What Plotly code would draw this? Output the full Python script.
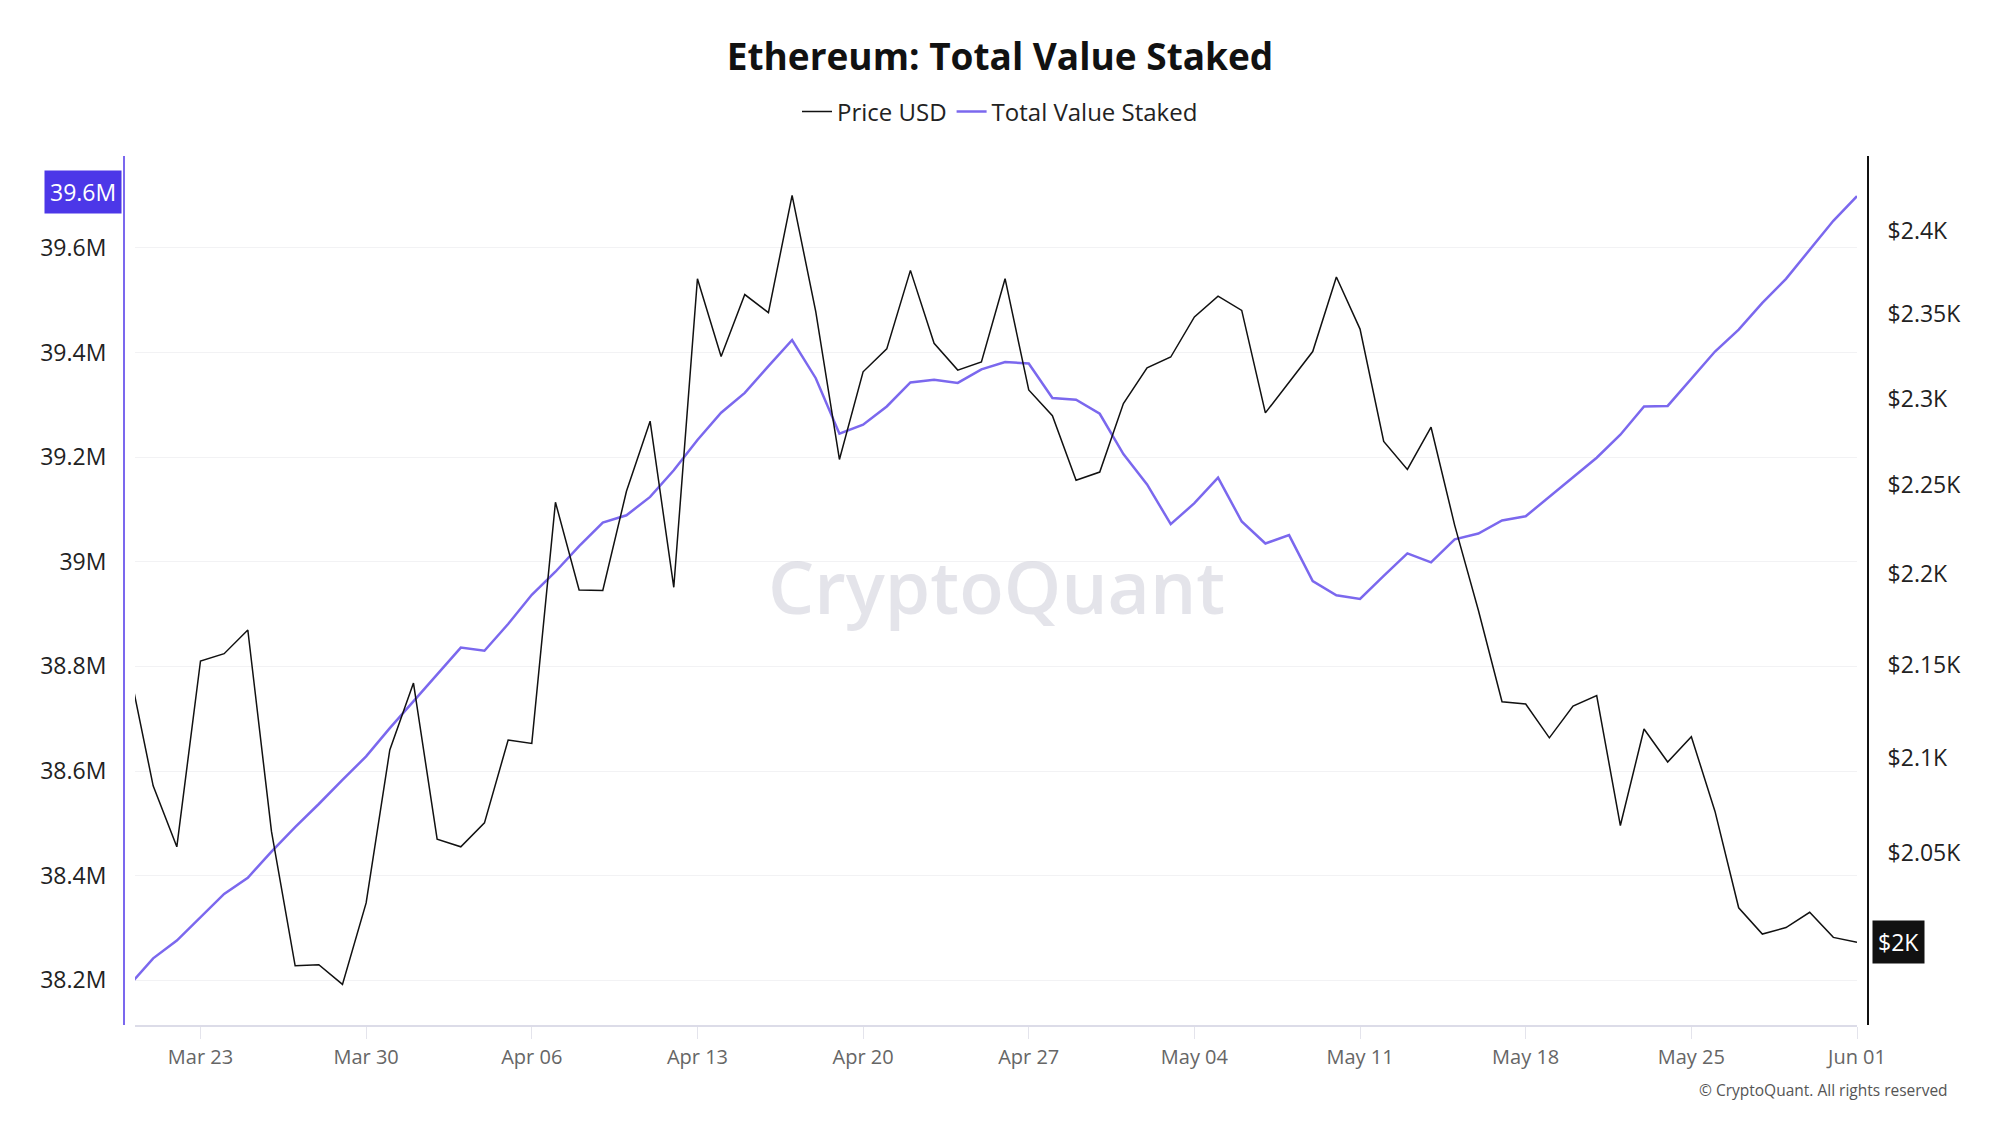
import math
import pandas as pd
import plotly.graph_objects as go

# ---------------- data ----------------
dates = pd.date_range("2025-03-20", "2025-06-01", freq="D")

price_usd = [
    2147, 2085, 2053, 2152, 2156, 2169, 2061, 1992, 1992.5, 1982.6, 2024, 2104,
    2140, 2057, 2053, 2065.5, 2109.3, 2107.5, 2240.4, 2191.1, 2190.8, 2246.6,
    2286.9, 2192.6, 2371.0, 2324.7, 2361.5, 2350.7, 2421.6, 2351.3, 2264.8,
    2315.7, 2329.2, 2376.0, 2332.5, 2316.7, 2321.5, 2371.0, 2305.1, 2290.1,
    2252.9, 2257.6, 2297.1, 2318.0, 2324.4, 2348.1, 2360.5, 2352.0, 2291.7,
    2309.3, 2327.6, 2372.0, 2340.9, 2275.2, 2259.1, 2283.4, 2227.3, 2179.9,
    2129.9, 2128.7, 2110.5, 2127.6, 2133.2, 2064.1, 2115.2, 2097.6, 2111.1,
    2071.5, 2021.5, 2008.1, 2011.4, 2019.2, 2006.4, 2003.9,
]

total_value_staked_m = [
    38.191, 38.242, 38.276, 38.320, 38.365, 38.396, 38.446, 38.493, 38.537,
    38.583, 38.628, 38.682, 38.734, 38.785, 38.836, 38.830, 38.881, 38.937,
    38.981, 39.030, 39.075, 39.089, 39.124, 39.175, 39.233, 39.285, 39.323,
    39.374, 39.424, 39.351, 39.245, 39.262, 39.297, 39.343, 39.348, 39.342,
    39.368, 39.382, 39.379, 39.313, 39.310, 39.283, 39.206, 39.148, 39.072,
    39.112, 39.161, 39.077, 39.035, 39.051, 38.963, 38.936, 38.929, 38.973,
    39.016, 38.999, 39.043, 39.054, 39.079, 39.087, 39.124, 39.161, 39.199,
    39.243, 39.297, 39.298, 39.351, 39.402, 39.444, 39.495, 39.541, 39.596,
    39.652, 39.699,
]

x_tick_dates = pd.date_range("2025-03-23", "2025-06-01", freq="7D")
left_tick_vals = [38.2, 38.4, 38.6, 38.8, 39.0, 39.2, 39.4, 39.6]
left_tick_text = ["38.2M", "38.4M", "38.6M", "38.8M", "39M", "39.2M", "39.4M", "39.6M"]
right_tick_vals = [2050, 2100, 2150, 2200, 2250, 2300, 2350, 2400]
right_tick_text = ["$2.05K", "$2.1K", "$2.15K", "$2.2K", "$2.25K", "$2.3K", "$2.35K", "$2.4K"]

PURPLE = "#7b68ee"
FONT = "Open Sans"

fig = go.Figure()
fig.add_trace(go.Scatter(
    x=dates, y=price_usd, name="Price USD", mode="lines",
    line=dict(color="#111111", width=1.5), yaxis="y2",
))
fig.add_trace(go.Scatter(
    x=dates, y=total_value_staked_m, name="Total Value Staked", mode="lines",
    line=dict(color=PURPLE, width=2.5), yaxis="y",
))

last_tvs = total_value_staked_m[-1]
last_price = price_usd[-1]
tvs_badge = f"{math.floor(last_tvs * 10) / 10:g}M"
price_badge = f"${last_price / 1000:.3g}K"

fig.update_layout(
    width=2000, height=1125,
    margin=dict(l=124, r=132, t=156, b=100),
    paper_bgcolor="white", plot_bgcolor="white",
    font=dict(family=FONT, color="#222"),
    title=dict(
        text="<b>Ethereum: Total Value Staked</b>",
        x=0.5, xref="container", xanchor="center",
        y=1 - 57 / 1125, yref="container", yanchor="middle",
        font=dict(size=37, color="#111", family=FONT),
    ),
    legend=dict(
        orientation="h", xref="container", x=0.5, xanchor="center",
        yref="container", y=1 - 112 / 1125, yanchor="middle",
        font=dict(size=24, color="#222"), bgcolor="rgba(0,0,0,0)",
        itemwidth=30,
    ),
    showlegend=True,
    xaxis=dict(
        type="date",
        domain=[11 / 1744, 1 - 11 / 1744],
        range=["2025-03-20 05:35", "2025-06-01 00:00"],
        showline=True, linecolor="#dcdce8", linewidth=1.5,
        ticks="outside", ticklen=12, tickcolor="#e4e4ec", tickwidth=1,
        tickvals=list(x_tick_dates), tickformat="%b %d",
        tickfont=dict(size=20, color="#666"),
        ticklabelstandoff=1,
        showgrid=False, zeroline=False,
    ),
    yaxis=dict(
        range=[38.1145, 39.7758],
        anchor="free", position=0, side="left",
        showline=True, linecolor=PURPLE, linewidth=2,
        showgrid=True, gridcolor="#f2f2f4", gridwidth=1,
        tickvals=left_tick_vals, ticktext=left_tick_text,
        tickfont=dict(size=23, color="#222"),
        ticks="", ticklabelstandoff=12, zeroline=False,
    ),
    yaxis2=dict(
        type="log",
        range=[3.29277, 3.38844],
        overlaying="y", anchor="free", position=1, side="right",
        showline=True, linecolor="#111", linewidth=2,
        showgrid=False,
        tickvals=right_tick_vals, ticktext=right_tick_text,
        tickfont=dict(size=23, color="#222"),
        ticks="", ticklabelstandoff=14, zeroline=False,
    ),
)

fig.add_annotation(
    text="CryptoQuant", xref="paper", yref="paper", x=0.5, y=0.506,
    showarrow=False, font=dict(size=73, color="rgba(205,205,216,0.55)", family=FONT, weight=600),
)
fig.add_annotation(
    text=tvs_badge, xref="paper", yref="y", x=-2 / 1744, y=last_tvs,
    xanchor="right", yanchor="middle", showarrow=False, yshift=4,
    bgcolor="#4c37e8", borderpad=5, font=dict(size=23, color="white"),
)
fig.add_annotation(
    text=price_badge, xref="paper", yref="y2", x=1 + 4 / 1744, y=math.log10(last_price),
    xanchor="left", yanchor="middle", showarrow=False,
    bgcolor="#111111", borderpad=5, font=dict(size=23, color="white"),
)
fig.add_annotation(
    text="© CryptoQuant. All rights reserved", xref="paper", yref="paper",
    x=(1950 - 124) / 1744, y=(1025 - 1090) / 869, xanchor="right", yanchor="middle",
    showarrow=False, font=dict(size=15.5, color="#555"),
)

fig.write_html("out.html")
